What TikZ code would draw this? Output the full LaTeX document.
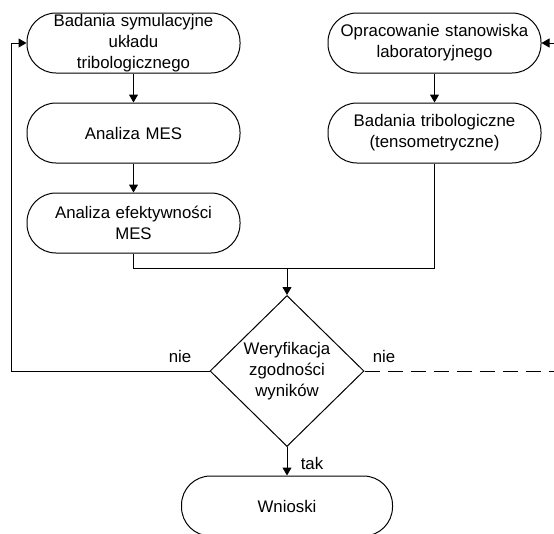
\documentclass[tikz,border=0pt]{standalone}
\usepackage{fontspec}
\setmainfont{Liberation Sans}
\usetikzlibrary{shapes.geometric,arrows.meta}
\begin{document}
\begin{tikzpicture}[x=1pt,y=-1pt,
  txt/.style={font=\fontsize{16.8}{21}\selectfont},
  term/.style={txt, draw, rectangle, rounded corners=29pt, minimum width=213pt,
    minimum height=60pt, align=center, text width=205pt, inner sep=0pt, line width=1pt},
  decision/.style={txt, draw, diamond, minimum width=154pt, minimum height=151pt,
    align=center, inner sep=0pt, line width=1pt},
  flow/.style={line width=1pt},
  arr/.style={flow, -{Triangle[length=8pt,width=9pt]}},
  lbl/.style={txt, inner sep=0pt}
]
\useasboundingbox (0,0) rectangle (554,533);
\clip (0,0) rectangle (554,533);

% left column
\node[term] (sym) at (133.5,43) {Badania symulacyjne\\układu\\tribologicznego};
\node[term] (mes) at (133.5,133) {Analiza MES};
\node[term] (eff) at (133.5,223) {Analiza efektywności\\MES};

% right column
\node[term] (lab) at (434.5,43) {Opracowanie stanowiska\\laboratoryjnego};
\node[term] (tri) at (434.5,133) {Badania tribologiczne\\(tensometryczne)};

% decision and result
\node[decision] (ver) at (287,371) {Weryfikacja\\zgodności\\wyników};
\node[term, minimum width=211pt] (wn) at (287,506) {Wnioski};

% junction and free ends
\coordinate (merge) at (287,268);
\coordinate (loopL) at (11,371);
\coordinate (edgeR) at (554,371);
\coordinate (inR) at (554,43);

\draw[arr] (sym) -- (mes);
\draw[arr] (mes) -- (eff);
\draw[arr] (lab) -- (tri);
\draw[flow] (eff.south) |- (merge);
\draw[flow] (tri.south) |- (merge);
\draw[arr] (merge) -- (ver.north);
\draw[arr] (ver.west) -- (loopL) |- (sym.west);
\draw[flow, dash pattern=on 15pt off 8pt] (ver.east) -- (edgeR);
\draw[arr] (inR) -- (lab.east);
\draw[arr] (ver.south) -- (wn.north);

% branch labels
\node[lbl] (nieL) at (180,356) {nie};
\node[lbl] (nieR) at (384,356) {nie};
\node[lbl] (tak) at (312,463) {tak};
\end{tikzpicture}
\end{document}
